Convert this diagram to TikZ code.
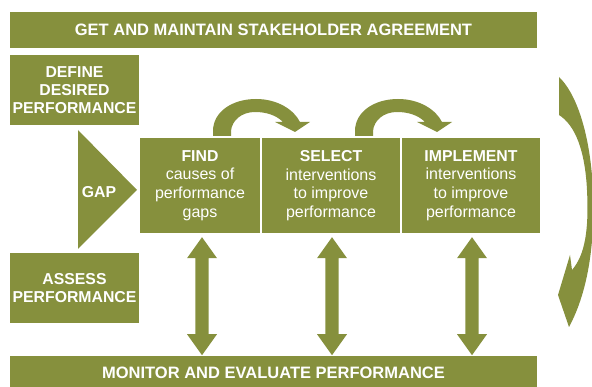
\documentclass[tikz,border=0pt]{standalone}
\usepackage{fontspec}
\setmainfont{Liberation Sans}
\definecolor{olivebox}{RGB}{134,144,61}
\begin{document}
\begin{tikzpicture}[x=1pt,y=-1pt,
  box/.style={fill=olivebox, inner sep=0pt, text=white, align=center},
  bartext/.style={font=\bfseries\fontsize{16.5}{19}\selectfont},
  headtext/.style={font=\bfseries\fontsize{15.8}{18.3}\selectfont},
  bodytext/.style={font=\fontsize{16}{18.7}\selectfont},
  twoway/.pic={\fill[olivebox] (0,0) -- (15,21) -- (6.7,21) -- (6.7,97) -- (15,97) -- (0,118)
      -- (-15,97) -- (-6.7,97) -- (-6.7,21) -- (-15,21) -- cycle;},
  hop/.pic={\fill[olivebox] (0,5) -- (0,0) .. controls (0,-19) and (19,-32) .. (43,-32)
      .. controls (65,-32) and (81,-21) .. (87,-9) -- (97,-9) -- (82,1) -- (62,-9) -- (70,-9)
      .. controls (63,-16) and (53,-19) .. (42,-19) .. controls (29,-19) and (19,-11) .. (18,0)
      -- (18,5) -- cycle;}
]
\useasboundingbox (0,0) rectangle (592,387);
\clip (0,0) rectangle (592,387);

% bars
\node[box, bartext, minimum width=527, minimum height=35.5] (top) at (273.5,30.25)
  {GET AND MAINTAIN STAKEHOLDER AGREEMENT};
\node[box, bartext, minimum width=527, minimum height=34] (monitor) at (273.5,373)
  {MONITOR AND EVALUATE PERFORMANCE};

% left boxes
\node[box, headtext, minimum width=129, minimum height=70] (define) at (74.5,90)
  {DEFINE\\DESIRED\\PERFORMANCE};
\node[box, headtext, minimum width=129, minimum height=70] (assess) at (74.5,288)
  {ASSESS\\PERFORMANCE};

% gap triangle
\fill[olivebox] (78,130) -- (137,190) -- (78,249) -- cycle;
\node[headtext, text=white, inner sep=0pt] (gap) at (99,192) {GAP};

% process boxes
\node[box, bodytext, minimum width=120, minimum height=95] (find) at (200,185.5)
  {{\bfseries\fontsize{15.8}{18.7}\selectfont FIND}\\causes of\\performance\\gaps};
\node[box, bodytext, minimum width=138, minimum height=95] (select) at (331,185.5)
  {{\bfseries\fontsize{15.8}{18.7}\selectfont SELECT}\\interventions\\to improve\\performance};
\node[box, bodytext, minimum width=138, minimum height=95] (implement) at (471,185.5)
  {{\bfseries\fontsize{15.8}{18.7}\selectfont IMPLEMENT}\\interventions\\to improve\\performance};

% double arrows
\pic at ([shift={(2,4)}]find.south) {twoway};
\pic at ([shift={(1,4)}]select.south) {twoway};
\pic at ([shift={(1,4)}]implement.south) {twoway};

% hop arrows
\pic at (213,131) {hop};
\pic at (355,131) {hop};

% big curved arrow on the right
\fill[olivebox] (559,77) .. controls (575,92) and (590,130) .. (593,190)
  .. controls (595,240) and (589,290) .. (569,327)
  -- (558,295) -- (570,255) -- (572,270)
  .. controls (585,255) and (589,230) .. (587,190)
  .. controls (585,150) and (575,125) .. (559,115) -- cycle;
\end{tikzpicture}
\end{document}
